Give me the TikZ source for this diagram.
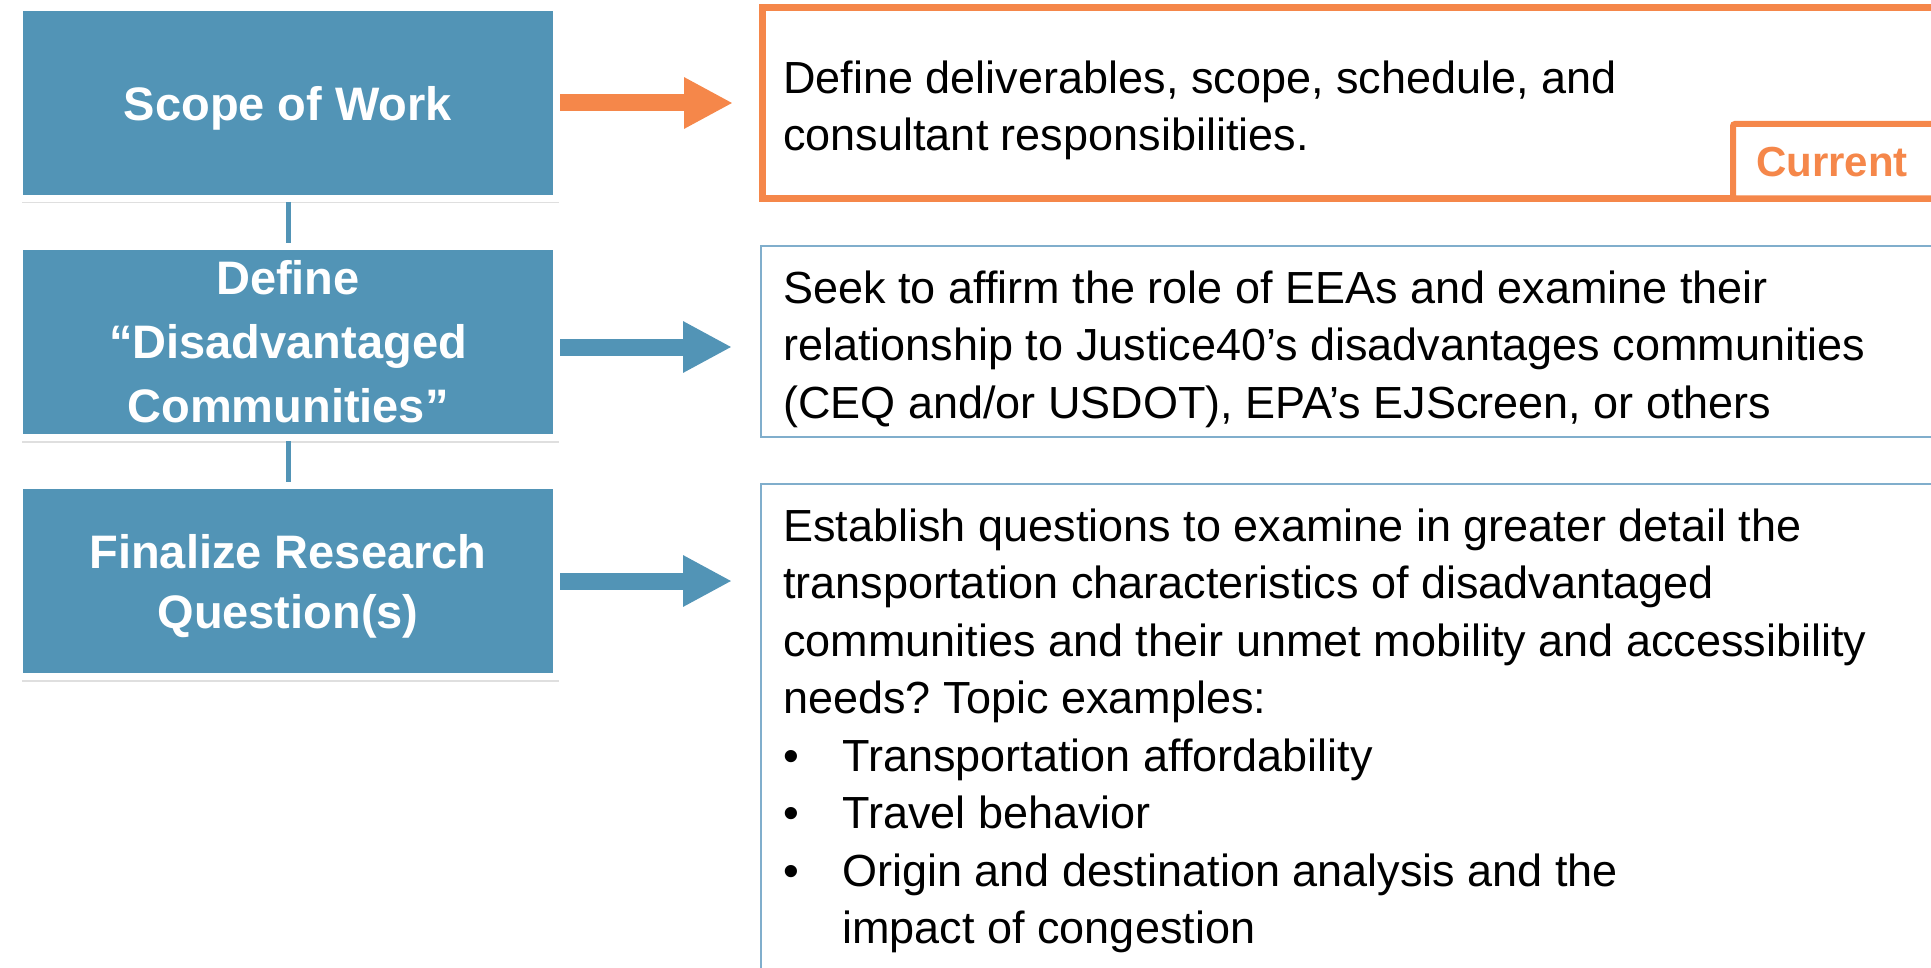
\documentclass[tikz,border=0pt]{standalone}
\usepackage{fontspec}
\setmainfont{Liberation Sans}
\usepackage{tikz}
\usetikzlibrary{arrows.meta,shadows}
\definecolor{stepblue}{RGB}{82,148,182}
\definecolor{nowor}{RGB}{245,135,74}
\definecolor{edgeblue}{RGB}{128,174,204}
\tikzstyle{stepbox}=[fill=stepblue, draw=white, line width=3.5pt, minimum width=268.5pt, minimum height=95.5pt, align=center, text=white, font=\fontsize{23.5}{32}\selectfont\bfseries, drop shadow={shadow xshift=1pt, shadow yshift=-2.5pt, opacity=0.25}]
\tikzstyle{descbox}=[draw=edgeblue, line width=1pt, anchor=north west, inner sep=0pt, outer sep=0pt]
\tikzstyle{desctext}=[anchor=north west, inner sep=0pt, align=left, font=\fontsize{22.5}{28.75}\selectfont]
\tikzstyle{fat>}=[line width=8.5pt, shorten >=14.5pt, -{Triangle[length=24.5pt, width=24pt]}]
\tikzstyle{link}=[stepblue, line width=2.5pt]
\newcommand{\bul}{\makebox[29.5pt][l]{•}}
\frenchspacing

\begin{document}
\begin{tikzpicture}[x=0.5pt, y=-0.5pt]
\useasboundingbox (0,0) rectangle (1931,968);
% steps on the left
\node[stepbox, text depth=0pt] (s1) at (288,103) {Scope of Work};
\node[stepbox] (s2) at (288,342) {Define\\“Disadvantaged\\Communities”};
\node[stepbox, text depth=0pt, font=\fontsize{23.5}{30}\selectfont\bfseries] (s3) at (288,581) {Finalize Research\\Question(s)};
\draw[link] (s1.south) -- (s2.north);
\draw[link] (s2.south) -- (s3.north);
% descriptions on the right
\node[descbox, draw=nowor, line width=3.5pt, minimum width=596pt, minimum height=95.5pt] (r1) at (762,7.5) {};
\node[descbox, minimum width=596pt, minimum height=95.5pt] (r2) at (761,246) {};
\node[descbox, minimum width=596pt, minimum height=250pt] (r3) at (761,484) {};
\draw[nowor, line width=3pt, fill=white, rounded corners=1pt] (1970,198.5) -- (1733,198.5) -- (1733,124) -- (1970,124);
\node[text=nowor, font=\fontsize{21}{25}\selectfont\bfseries] (cur) at (1832,162) {Current};
\node[desctext] (t1) at (783,60) {Define deliverables, scope, schedule, and\\consultant responsibilities.};
\node[desctext] (t2) at (783,270) {Seek to affirm the role of EEAs and examine their\\relationship to Justice40’s disadvantages communities\\(CEQ and/or USDOT), EPA’s EJScreen, or others};
\node[desctext] (t3) at (783,508) {Establish questions to examine in greater detail the\\transportation characteristics of disadvantaged\\communities and their unmet mobility and accessibility\\needs? Topic examples:\\\bul Transportation affordability\\\bul Travel behavior\\\bul Origin and destination analysis and the\\\hspace*{29.5pt}impact of congestion};
% arrows
\draw[fat>, nowor] (s1.east) -- (s1.east -| r1.west);
\draw[fat>, stepblue] ([yshift=-2.5pt]s2.east) -- ([yshift=-2.5pt]s2.east -| r2.west);
\draw[fat>, stepblue] (s3.east) -- (s3.east -| r3.west);
\end{tikzpicture}
\end{document}
